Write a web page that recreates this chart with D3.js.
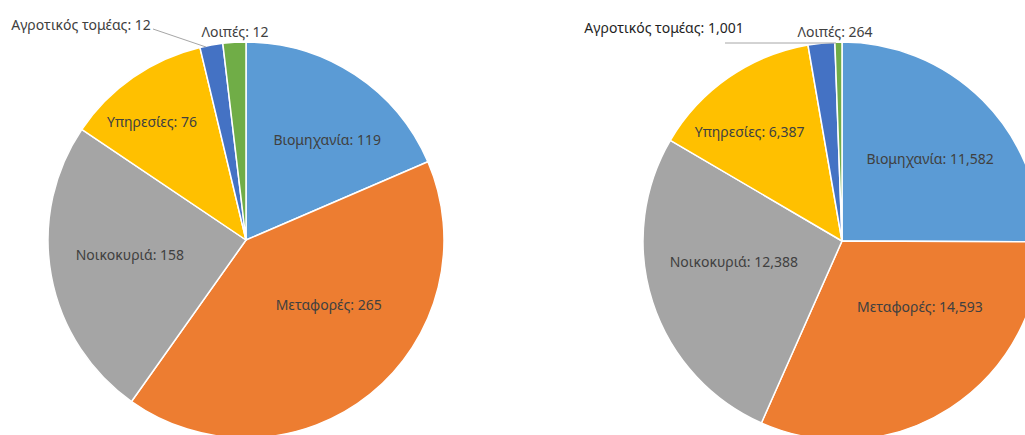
<!DOCTYPE html>
<html>
<head>
<meta charset="utf-8">
<script src="https://cdn.jsdelivr.net/npm/d3@7"></script>
<style>
  html, body { margin: 0; padding: 0; background: #ffffff; }
  svg { display: block; }
  text { font-family: "Noto Sans", "Open Sans", sans-serif; }
</style>
</head>
<body>
<svg id="chart" width="1025" height="435"></svg>
<script>
// Energy consumption by sector — two pies
const categories = ["Βιομηχανία", "Μεταφορές", "Νοικοκυριά", "Υπηρεσίες", "Αγροτικός τομέας", "Λοιπές"];
const valuesLeft = [119, 265, 158, 76, 12, 12];
const valuesRight = [11582, 14593, 12388, 6387, 1001, 264];
const labelsLeft = ["119", "265", "158", "76", "12", "12"];
const labelsRight = ["11,582", "14,593", "12,388", "6,387", "1,001", "264"];

const colors = ["#5B9BD5", "#ED7D31", "#A5A5A5", "#FFC000", "#4472C4", "#70AD47"];

const svg = d3.select("#chart");
const FONT_SIZE = 14;

// Label placement for each pie: inner labels as [angle in degrees, radius],
// outer labels as absolute text positions with leader lines.
const pies = [
  {
    values: valuesLeft, labels: labelsLeft, cx: 246, cy: 240, r: 198,
    inner: [[39, 129], [128, 105], [263, 117], [321.5, 151]],
    outer: [
      { i: 4, x: 81, y: 24, line: [[153, 29], [206, 47]] },
      { i: 5, x: 235, y: 31, line: null }
    ]
  },
  {
    values: valuesRight, labels: labelsRight, cx: 842, cy: 241, r: 199,
    inner: [[46.7, 121], [130.2, 102], [259.5, 110], [319.8, 143]],
    outer: [
      { i: 4, x: 664, y: 27, line: [[725, 43], [836, 43]], dark: true },
      { i: 5, x: 835, y: 31, line: null }
    ]
  }
];

const pie = d3.pie().sort(null).value(d => d);

pies.forEach(p => {
  const g = svg.append("g").attr("transform", `translate(${p.cx},${p.cy})`);
  const arc = d3.arc().innerRadius(0).outerRadius(p.r);
  const arcs = pie(p.values);

  g.selectAll("path.slice")
    .data(arcs)
    .join("path")
    .attr("class", "slice")
    .attr("d", arc)
    .attr("fill", (d, i) => colors[i])
    .attr("stroke", "#ffffff")
    .attr("stroke-width", 1.5)
    .attr("stroke-linejoin", "round");

  // labels inside the larger slices
  p.inner.forEach(([deg, rad], i) => {
    const a = deg * Math.PI / 180;
    g.append("text")
      .attr("x", rad * Math.sin(a))
      .attr("y", -rad * Math.cos(a))
      .attr("text-anchor", "middle")
      .attr("dominant-baseline", "central")
      .attr("font-size", FONT_SIZE)
      .attr("fill", "#404040")
      .text(`${categories[i]}: ${p.labels[i]}`);
  });

  // labels for the thin slices, placed above the pie
  p.outer.forEach(o => {
    if (o.line) {
      svg.append("path")
        .attr("d", d3.line()(o.line))
        .attr("fill", "none")
        .attr("stroke", "#A6A6A6")
        .attr("stroke-width", 1);
    }
    svg.append("text")
      .attr("x", o.x)
      .attr("y", o.y)
      .attr("text-anchor", "middle")
      .attr("dominant-baseline", "central")
      .attr("font-size", FONT_SIZE)
      .attr("fill", o.dark ? "#1f1f1f" : "#404040")
      .text(`${categories[o.i]}: ${p.labels[o.i]}`);
  });
});
</script>
</body>
</html>
